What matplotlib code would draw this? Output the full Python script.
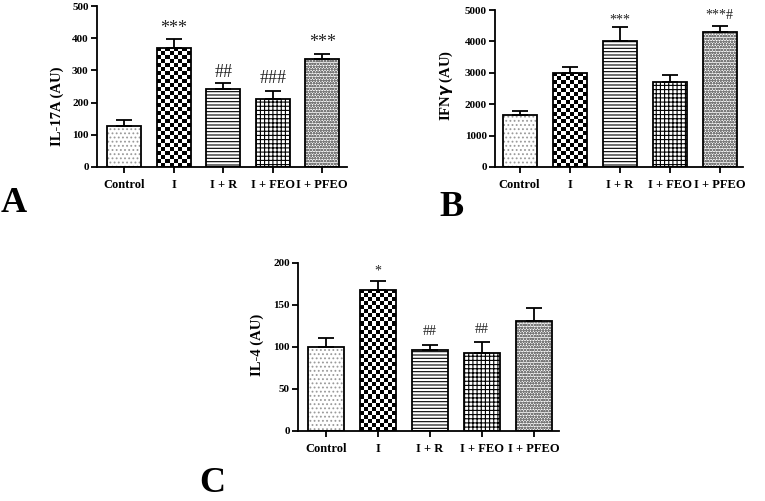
#!/usr/bin/env python3
# Cytokine levels (IL-17A, IFNg, IL-4) per treatment group, three bar panels
import numpy as np
import matplotlib
matplotlib.use("Agg")
import matplotlib.pyplot as plt

plt.rcParams['font.family'] = ['Liberation Serif', 'DejaVu Serif']
plt.rcParams['font.weight'] = 'bold'
plt.rcParams['hatch.linewidth'] = 0.8

# Data
groups = ["Control", "I", "I + R", "I + FEO", "I + PFEO"]

il17_mean = [128, 370, 243, 210, 336]
il17_err = [17, 27, 19, 25, 16]
il17_marks = ["", "***", "##", "###", "***"]

ifng_mean = [1660, 3000, 4000, 2700, 4310]
ifng_err = [130, 200, 450, 230, 170]
ifng_marks = ["", "", "***", "", "***#"]

il4_mean = [100, 168, 97, 93, 131]
il4_err = [11, 11, 5, 13, 15]
il4_marks = ["", "*", "##", "##", ""]

W, H = 765, 501
fig = plt.figure(figsize=(W / 100, H / 100), dpi=100)


def panel(l, r, t, b):
    return fig.add_axes([l / W, (H - b) / H, (r - l) / W, (b - t) / H])


def checker(ax, patch, cell_px=4.0):
    # draw a black/white checkerboard inside a bar patch
    x0, w, h = patch.get_x(), patch.get_width(), patch.get_height()
    p0 = ax.transData.transform((x0, 0))
    p1 = ax.transData.transform((x0 + w, h))
    cols = max(1, int(round((p1[0] - p0[0]) / cell_px)))
    rows = max(1, int(round((p1[1] - p0[1]) / cell_px)))
    board = np.indices((rows, cols)).sum(axis=0) % 2
    im = ax.imshow(board, cmap="gray", extent=(x0, x0 + w, 0, h),
                   aspect="auto", interpolation="nearest", zorder=2)
    im.set_clip_path(patch)


def draw(ax, means, errs, marks, ylim, yticks, ylabel, label_xy, xlim,
         mark_y, mark_size):
    x = np.arange(len(groups))
    ax.set_xlim(*xlim)
    ax.set_ylim(0, ylim)
    width = 0.68

    # light dotted fill for Control and I + PFEO (grey hatch, black outline)
    ax.bar(x[0], means[0], width, color="white", edgecolor="#9a9a9a",
           hatch="....", linewidth=0, zorder=1)
    ax.bar(x[4], means[4], width, color="white", edgecolor="#7a7a7a",
           hatch="oooooo", linewidth=0, zorder=1)
    bars = ax.bar(x, means, width, color="none", edgecolor="black",
                  linewidth=1.3, zorder=3)
    ax.bar(x[2], means[2], width, color="white", edgecolor="black",
           hatch="-----", linewidth=0, zorder=1)
    ax.bar(x[3], means[3], width, color="white", edgecolor="black",
           hatch="++++", linewidth=0, zorder=1)
    checker(ax, bars[1])

    ax.errorbar(x, means, yerr=[np.zeros(len(errs)), errs], fmt="none",
                ecolor="black", elinewidth=1.3, capsize=6, capthick=1.3,
                zorder=4)

    for xi, m, my in zip(x, marks, mark_y):
        if m:
            ax.text(xi, my, m, ha="center", va="center", fontsize=mark_size,
                    fontweight="normal", color="#222222")

    ax.set_xticks(x)
    ax.set_xticklabels(groups, fontsize=9, fontweight="bold")
    ax.set_yticks(yticks)
    ax.set_yticklabels([str(v) for v in yticks], fontsize=8, fontweight="bold")
    ax.tick_params(axis="both", length=4, width=1.3, direction="out", pad=2)
    ax.tick_params(axis="x", pad=5)
    for s in ("top", "right"):
        ax.spines[s].set_visible(False)
    for s in ("left", "bottom"):
        ax.spines[s].set_linewidth(1.3)
    ax.set_ylabel(ylabel, fontsize=10.5, fontweight="bold")
    ax.yaxis.set_label_coords(*label_xy)


# Panel A
axA = panel(97, 347, 6, 167)
draw(axA, il17_mean, il17_err, il17_marks, 500, [0, 100, 200, 300, 400, 500],
     "IL-17A (AU)", (-0.13, 0.38), (-0.55, 4.5),
     [0, 430, 295, 276, 386], 13)

# Panel B
axB = panel(495, 743, 10, 167)
draw(axB, ifng_mean, ifng_err, ifng_marks, 5000,
     [0, 1000, 2000, 3000, 4000, 5000],
     "IFN$\\gamma$ (AU)", (-0.16, 0.52), (-0.49, 4.47),
     [0, 0, 4680, 0, 4810], 10)

# Panel C
axC = panel(298, 559, 263, 431)
draw(axC, il4_mean, il4_err, il4_marks, 200, [0, 50, 100, 150, 200],
     "IL-4 (AU)", (-0.13, 0.51), (-0.54, 4.48),
     [0, 190, 118, 121, 0], 10)

# Panel letters
fig.text(14 / W, 1 - 204 / H, "A", fontsize=26, fontweight="bold",
         ha="center", va="center")
fig.text(451 / W, 1 - 207 / H, "B", fontsize=26, fontweight="bold",
         ha="center", va="center")
fig.text(212 / W, 1 - 484 / H, "C", fontsize=26, fontweight="bold",
         ha="center", va="center")

fig.savefig("out.png", dpi=100)
